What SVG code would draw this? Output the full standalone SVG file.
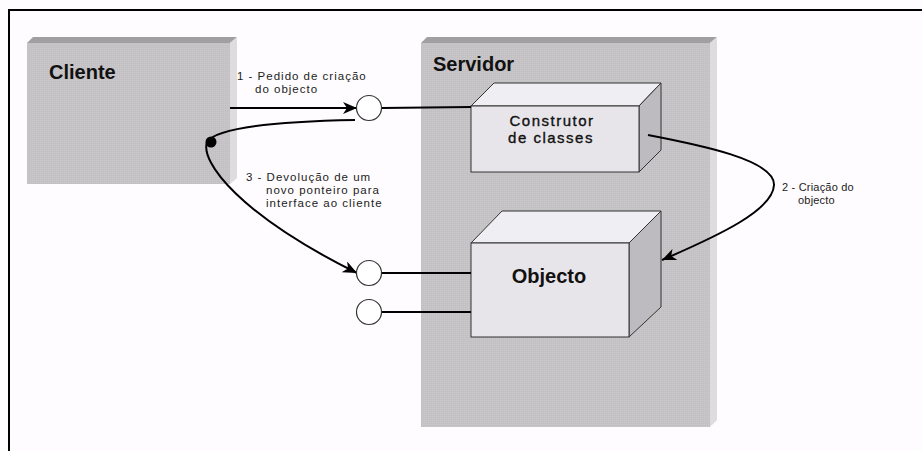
<svg xmlns="http://www.w3.org/2000/svg" width="922" height="451" viewBox="0 0 922 451">
<style>
.title{font-family:"Liberation Sans",Arial,sans-serif;font-weight:bold;font-size:20px;fill:#111}
.box{font-family:"Liberation Sans",Arial,sans-serif;font-size:15px;fill:#111;stroke:#111;stroke-width:0.35;letter-spacing:1.5px}
.lbl{font-family:"Liberation Sans",Arial,sans-serif;font-size:11.5px;fill:#222;letter-spacing:1px}
.lbl2{font-family:"Liberation Sans",Arial,sans-serif;font-size:11px;fill:#222;letter-spacing:0.2px}
.panel{fill:url(#tex)}
.ptop{fill:#a19fa1}
.pside{fill:#dedcde}
.bfront{fill:#e7e5e9;stroke:#333;stroke-width:1}
.btop{fill:#efeef2;stroke:#333;stroke-width:1}
.bside{fill:#bdbbbf;stroke:#333;stroke-width:1}
.conn{fill:none;stroke:#000;stroke-width:2}
.iface{fill:#fff;stroke:#333;stroke-width:1.2}
</style>
<defs>
<pattern id="tex" width="2" height="2" patternUnits="userSpaceOnUse">
<rect width="2" height="2" fill="#c3c1c3"/>
<rect width="1" height="1" fill="#cbc9cb"/>
</pattern>
<marker id="arr" markerUnits="userSpaceOnUse" markerWidth="14" markerHeight="12" viewBox="0 0 14 12" refX="14" refY="6" orient="auto">
<path d="M0,0 L14,6 L0,12 L4,6 z" fill="#000"/>
</marker>
</defs>
<rect width="922" height="451" fill="#fefcfe"/>
<g id="frame">
<line x1="8" y1="10" x2="922" y2="10" stroke="#000" stroke-width="2"/>
<line x1="9" y1="9" x2="9" y2="451" stroke="#000" stroke-width="2"/>
</g>
<g id="cliente">
<polygon class="ptop" points="27,43 33,37 237,37 230,43"/>
<polygon class="pside" points="230,43 237,37 237,178 230,184"/>
<rect class="panel" x="27" y="43" width="203" height="141"/>
<text class="title" x="49" y="79">Cliente</text>
</g>
<g id="servidor">
<polygon class="ptop" points="421,43 427,37 717,37 710,43"/>
<polygon class="pside" points="710,43 717,37 717,420 710,427"/>
<rect class="panel" x="421" y="43" width="289" height="384"/>
<text class="title" x="433" y="71">Servidor</text>
</g>
<g id="construtor">
<polygon class="btop" points="471,106 494,83 661,83 639,106"/>
<polygon class="bside" points="639,106 661,83 661,150 639,172"/>
<rect class="bfront" x="471" y="106" width="168" height="66"/>
<text class="box" x="552" y="126" text-anchor="middle">Construtor</text>
<text class="box" x="551" y="143" text-anchor="middle">de classes</text>
</g>
<g id="objecto">
<polygon class="btop" points="471,243 502,211 661,211 629,243"/>
<polygon class="bside" points="629,243 661,211 661,307 629,337"/>
<rect class="bfront" x="471" y="243" width="158" height="94"/>
<text class="title" x="549" y="283" text-anchor="middle">Objecto</text>
</g>
<g id="connectors">
<line class="conn" x1="230" y1="108" x2="357" y2="108" marker-end="url(#arr)"/>
<line class="conn" x1="382" y1="108" x2="471" y2="107"/>
<line class="conn" x1="382" y1="273" x2="471" y2="273"/>
<line class="conn" x1="382" y1="312" x2="471" y2="312"/>
<path class="conn" d="M355,120 C300,121 218,125 207,142 C200,162 240,215 357,273" marker-end="url(#arr)"/>
<circle cx="211" cy="142" r="5.5" fill="#000"/>
<path class="conn" d="M648,135 C700,145 775,160 774,185 C773,210 720,235 662,260" marker-end="url(#arr)"/>
</g>
<g id="interfaces">
<circle id="iface1" class="iface" cx="369" cy="108" r="12.5"/>
<circle id="iface2" class="iface" cx="369" cy="273" r="12.5"/>
<circle id="iface3" class="iface" cx="369" cy="312" r="12.5"/>
</g>
<g id="labels">
<text class="lbl" x="237" y="80">1 - Pedido de criação</text>
<text class="lbl" x="255" y="93">do objecto</text>
<text class="lbl" x="246" y="181">3 - Devolução de um</text>
<text class="lbl" x="266" y="194">novo ponteiro para</text>
<text class="lbl" x="266" y="207">interface ao cliente</text>
<text class="lbl2" x="782" y="191">2 - Criação do</text>
<text class="lbl2" x="798" y="204">objecto</text>
</g>
</svg>
